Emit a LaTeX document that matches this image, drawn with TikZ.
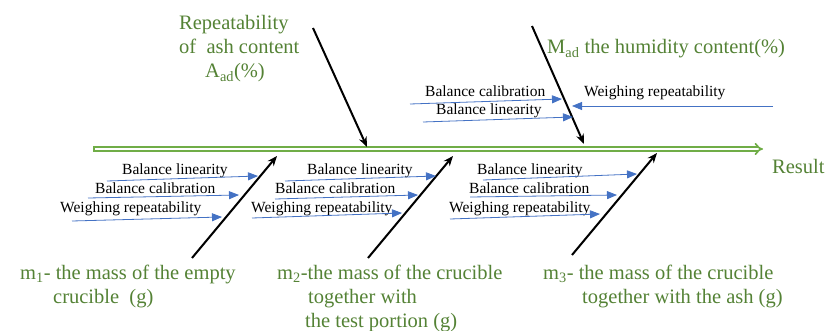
\documentclass[tikz,border=0pt]{standalone}
\usepackage{fontspec}
\setmainfont{Liberation Serif}
\usetikzlibrary{arrows.meta}
\definecolor{spinegreen}{HTML}{70AD47}
\definecolor{textgreen}{HTML}{548235}
\definecolor{subblue}{HTML}{4472C4}
\tikzset{
	spine/.style={draw=spinegreen, double=white, double distance=2.2pt, line width=1.7pt, -{Implies[length=7pt,width=13pt]}},
	cause/.style={line width=2pt, -{Stealth[length=10pt,width=8pt]}},
	subcause/.style={draw=subblue, line width=0.8pt, -{Triangle[length=10pt,width=8pt]}},
	lbl/.style={font=\fontsize{15.5}{18}\selectfont, anchor=base west, inner sep=0pt},
	head/.style={font=\fontsize{20.5}{24}\selectfont, text=textgreen, anchor=base west, inner sep=0pt, align=left},
}
\begin{document}
\begin{tikzpicture}[x=1pt, y=-1pt, line join=round]
	\useasboundingbox (0,0) rectangle (827,331);
	% spine
	\coordinate (tail) at (93,149);
	\coordinate (head) at (763,149);
	\draw[spine] (tail)--(head);
	\draw[spinegreen, line width=1.7pt] ([xshift=0.85pt,yshift=-2.9pt]tail)--([xshift=0.85pt,yshift=2.9pt]tail);
	\node[head] (res) at (772,174) {Result};
	% main causes (base = last line)
	\node[head] (rep) at (179,78) {Repeatability\\of~ ash content\\\hspace*{26pt}A\textsubscript{ad}(\%)};
	\node[head] (mad) at (547,54) {M\textsubscript{ad} the humidity content(\%)};
	\node[head] (m1) at (20,303) {m\textsubscript{1}- the mass of the empty\\\hspace*{33pt}crucible~ (g)};
	\node[head] (m2) at (277,327) {m\textsubscript{2}-the mass of the crucible\\\hspace*{31pt}together with\\\hspace*{28pt}the test portion (g)};
	\node[head] (m3) at (543,303) {m\textsubscript{3}- the mass of the crucible\\\hspace*{39pt}together with the ash (g)};
	\coordinate (a1) at (313,28);  \coordinate (b1) at (367,147);
	\coordinate (a2) at (532,26);  \coordinate (b2) at (584,144);
	\coordinate (a3) at (192,258); \coordinate (b3) at (277,156);
	\coordinate (a4) at (368,258); \coordinate (b4) at (453,156);
	\coordinate (a5) at (572,255); \coordinate (b5) at (657,153);
	\foreach \i in {1,...,5}
		\draw[cause] (a\i)--(b\i);
	% sub causes, top
	\node[lbl] (tbc) at (425,97) {Balance calibration};
	\node[lbl] (tbl) at (436,115) {Balance linearity};
	\node[lbl] (twr) at (584,97) {Weighing repeatability};
	\coordinate (tbc0) at (410,104); \coordinate (tbc1) at (562,99);
	\coordinate (tbl0) at (423,122); \coordinate (tbl1) at (573,117);
	\coordinate (twr0) at (773,106); \coordinate (twr1) at (572,106);
	% sub causes, m1
	\node[lbl] (bl1) at (122,175) {Balance linearity};
	\node[lbl] (bc1) at (95,194) {Balance calibration};
	\node[lbl] (wr1) at (60,212) {Weighing repeatability};
	\coordinate (bl10) at (107,181); \coordinate (bl11) at (258,176);
	\coordinate (bc10) at (88,198);  \coordinate (bc11) at (239,195);
	\coordinate (wr10) at (72,221);  \coordinate (wr11) at (222,217);
	% sub causes, m2
	\node[lbl] (bl2) at (307,175) {Balance linearity};
	\node[lbl] (bc2) at (275,194) {Balance calibration};
	\node[lbl] (wr2) at (251,212) {Weighing repeatability};
	\coordinate (bl20) at (285,181); \coordinate (bl21) at (436,176);
	\coordinate (bc20) at (275,199); \coordinate (bc21) at (418,195);
	\coordinate (wr20) at (252,218); \coordinate (wr21) at (402,213);
	% sub causes, m3
	\node[lbl] (bl3) at (477,175) {Balance linearity};
	\node[lbl] (bc3) at (469,194) {Balance calibration};
	\node[lbl] (wr3) at (449,212) {Weighing repeatability};
	\coordinate (bl30) at (483,180); \coordinate (bl31) at (637,174);
	\coordinate (bc30) at (470,197); \coordinate (bc31) at (617,195);
	\coordinate (wr30) at (450,219); \coordinate (wr31) at (600,214);
	\foreach \s in {tbc,tbl,twr,bl1,bc1,wr1,bl2,bc2,wr2,bl3,bc3,wr3}
		\draw[subcause] (\s0)--(\s1);
\end{tikzpicture}
\end{document}
